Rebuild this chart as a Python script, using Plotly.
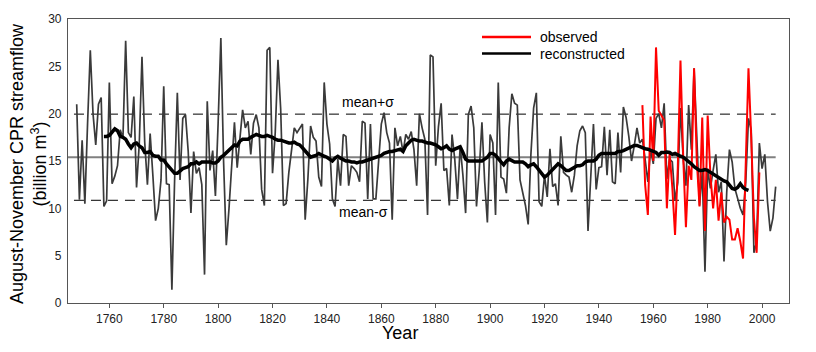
import plotly.graph_objects as go

FONT = "Arial, Liberation Sans, sans-serif"

# ---- data ----
recon_start = 1748
reconstructed = [
    21.0, 10.9, 17.2, 10.5, 19.0, 26.7, 20.0, 16.7, 21.0, 21.7,   # 1748-1757
    10.2, 10.8, 23.3, 12.6, 13.4, 14.5, 18.3, 17.4, 27.7, 18.0,   # 1758-1767
    17.5, 21.8, 12.2, 16.8, 26.0, 17.0, 12.5, 17.9, 13.5, 8.7,    # 1768-1777
    10.0, 13.0, 22.9, 12.6, 12.5, 1.4, 13.0, 22.2, 13.0, 19.5,    # 1778-1787
    19.9, 16.0, 9.5, 16.0, 13.7, 14.3, 12.5, 3.0, 21.3, 14.0,     # 1788-1797
    16.1, 11.3, 19.0, 28.0, 15.0, 6.1, 10.0, 14.0, 19.1, 14.3,    # 1798-1807
    17.0, 20.4, 18.5, 19.2, 15.7, 19.0, 19.9, 18.5, 12.0, 10.3,   # 1808-1817
    26.7, 27.0, 13.7, 18.0, 25.7, 20.5, 10.3, 10.5, 13.8, 16.2,   # 1818-1827
    18.5, 18.0, 18.5, 18.9, 8.8, 13.1, 18.7, 17.5, 17.1, 13.3,    # 1828-1837
    12.3, 23.3, 18.9, 16.8, 11.0, 10.2, 15.2, 12.4, 17.8, 17.6,   # 1838-1847
    12.4, 14.5, 14.2, 13.8, 12.8, 19.2, 19.0, 11.0, 18.9, 11.0,   # 1848-1857
    11.0, 14.9, 18.9, 20.1, 18.0, 16.9, 8.8, 18.5, 16.6, 17.6,    # 1858-1867
    15.9, 17.8, 17.3, 18.1, 16.2, 12.4, 20.0, 18.5, 17.3, 9.3,    # 1868-1877
    26.2, 26.0, 14.5, 18.6, 21.1, 14.0, 14.2, 10.3, 17.8, 15.2,   # 1878-1887
    11.0, 16.6, 13.5, 9.5, 19.9, 20.8, 18.5, 10.2, 14.0, 19.1,    # 1888-1897
    12.8, 8.5, 17.8, 16.9, 9.3, 23.3, 13.3, 13.1, 11.6, 18.5,     # 1898-1907
    22.1, 21.1, 20.9, 13.0, 11.7, 10.3, 8.3, 15.7, 20.6, 22.2,    # 1908-1917
    10.7, 10.2, 13.5, 11.2, 16.3, 12.3, 12.6, 10.3, 17.6, 13.8,   # 1918-1927
    13.5, 13.3, 11.7, 13.5, 16.6, 18.2, 18.7, 18.0, 7.6, 13.0,    # 1928-1937
    18.9, 12.0, 14.3, 14.4, 18.6, 13.5, 18.3, 12.8, 12.6, 18.0,   # 1938-1947
    13.8, 20.7, 19.6, 17.6, 15.0, 16.6, 18.5, 16.9, 17.3, 15.2,   # 1948-1957
    12.8, 16.2, 14.7, 19.5, 20.0, 18.5, 21.1, 13.1, 15.2, 14.9,   # 1958-1967
    10.8, 12.7, 20.6, 15.2, 12.4, 20.9, 16.2, 24.8, 17.6, 10.3,   # 1968-1977
    13.8, 3.3, 14.2, 12.1, 14.0, 15.7, 11.7, 12.8, 4.4, 11.7,     # 1978-1987
    16.2, 14.9, 12.1, 10.9, 10.0, 9.3, 12.8, 19.5, 18.3, 5.3,     # 1988-1997
    6.5, 16.9, 14.2, 15.7, 10.7, 7.6, 9.0, 12.3,                  # 1998-2005
]
recon_years = list(range(recon_start, recon_start + len(reconstructed)))

obs_start = 1956
observed = [
    20.9, 12.5, 9.3, 19.7, 15.0, 27.0, 20.3, 19.8, 19.3, 10.0,    # 1956-1965
    15.8, 12.2, 7.2, 14.2, 25.6, 15.5, 8.0, 14.5, 13.0, 24.8,     # 1966-1975
    15.0, 10.2, 19.6, 7.6, 19.8, 13.5, 10.0, 13.0, 8.7, 11.7,     # 1976-1985
    8.5, 9.1, 8.8, 6.7, 6.7, 7.9, 6.5, 4.7, 14.5, 24.8,           # 1986-1995
    17.5, 9.0, 5.3, 13.8,                                         # 1996-1999
]
obs_years = list(range(obs_start, obs_start + len(observed)))

ma_start = 1758
moving_avg = [
    17.6, 17.6, 17.7, 18.0, 18.4, 18.2, 17.6, 17.5, 17.3, 16.8,   # 1758-1767
    16.4, 16.8, 16.9, 16.6, 16.4, 15.9, 15.9, 16.0, 15.6, 15.5,   # 1768-1777
    15.5, 15.1, 15.1, 14.7, 14.4, 14.0, 13.7, 13.7, 14.0, 14.2,   # 1778-1787
    14.3, 14.4, 14.7, 14.7, 14.9, 14.7, 14.9, 14.9, 14.9, 14.9,   # 1788-1797
    14.8, 14.8, 15.0, 15.4, 15.6, 15.9, 16.1, 16.4, 16.7, 16.6,   # 1798-1807
    17.1, 17.3, 17.3, 17.3, 17.5, 17.7, 17.8, 17.7, 17.6, 17.6,   # 1808-1817
    17.7, 17.6, 17.5, 17.3, 17.2, 17.2, 17.1, 17.0, 16.9, 16.9,   # 1818-1827
    17.0, 16.8, 16.7, 16.4, 16.1, 15.7, 15.4, 15.5, 15.6, 15.8,   # 1828-1837
    15.6, 15.5, 15.4, 15.2, 15.0, 15.3, 15.5, 15.3, 15.1, 15.0,   # 1838-1847
    15.0, 14.9, 14.9, 14.8, 14.9, 14.9, 15.0, 15.1, 15.2, 15.3,   # 1848-1857
    15.4, 15.5, 15.6, 15.8, 15.9, 16.0, 16.0, 16.1, 16.2, 16.25,  # 1858-1867
    16.0, 16.6, 16.9, 17.2, 17.3, 17.2, 17.1, 17.1, 17.0, 16.9,   # 1868-1877
    16.9, 16.8, 16.7, 16.5, 16.3, 16.4, 16.6, 16.25, 16.1, 16.25, # 1878-1887
    16.4, 16.5, 15.9, 15.2, 15.0, 15.0, 15.0, 15.0, 15.0, 15.0,   # 1888-1897
    15.2, 15.4, 15.8, 15.8, 15.6, 15.2, 14.9, 14.6, 15.0, 15.2,   # 1898-1907
    15.0, 14.9, 14.9, 14.9, 14.9, 14.7, 14.4, 14.6, 14.7, 14.4,   # 1908-1917
    14.0, 13.6, 13.3, 13.5, 13.8, 14.2, 14.5, 14.7, 14.5, 14.2,   # 1918-1927
    14.0, 14.0, 14.2, 14.3, 14.5, 14.5, 14.6, 14.9, 15.0, 15.0,   # 1928-1937
    15.0, 15.2, 15.6, 15.8, 15.8, 15.8, 15.8, 15.8, 15.8, 16.0,   # 1938-1947
    16.0, 16.1, 16.25, 16.4, 16.6, 16.65, 16.65, 16.5, 16.4, 16.3,# 1948-1957
    16.25, 16.1, 15.95, 15.9, 15.6, 15.9, 15.9, 15.95, 15.9, 15.7,# 1958-1967
    15.8, 15.6, 15.5, 15.4, 15.2, 14.9, 14.7, 14.4, 14.2, 14.0,   # 1968-1977
    14.0, 14.1, 14.0, 13.8, 13.6, 13.5, 13.3, 13.1, 12.9, 12.8,   # 1978-1987
    12.5, 12.1, 12.0, 12.2, 12.6, 12.2, 12.0, 11.9,               # 1988-1995
]
ma_years = list(range(ma_start, ma_start + len(moving_avg)))

mean_flow = 15.4
sigma = 4.55
x_tick_vals = [1760, 1780, 1800, 1820, 1840, 1860, 1880, 1900, 1920, 1940, 1960, 1980, 2000]
y_tick_vals = [0, 5, 10, 15, 20, 25, 30]
x_range = [1744.8, 2009.9]

fig = go.Figure()

# mean and mean±sigma lines
fig.add_trace(go.Scatter(x=[x_range[0], recon_years[-1]], y=[mean_flow, mean_flow],
                         mode="lines", line=dict(color="#808080", width=2),
                         hoverinfo="skip", showlegend=False))
for lvl in (mean_flow + sigma, mean_flow - sigma):
    fig.add_trace(go.Scatter(x=[recon_years[0] - 1, recon_years[-1]], y=[lvl, lvl],
                             mode="lines", line=dict(color="#000000", width=1, dash="10px,7px"),
                             hoverinfo="skip", showlegend=False))

fig.add_trace(go.Scatter(x=recon_years, y=reconstructed, mode="lines",
                         line=dict(color="#3a3a3a", width=1.7), showlegend=False))
fig.add_trace(go.Scatter(x=obs_years, y=observed, mode="lines",
                         line=dict(color="#ff0000", width=2), showlegend=False))
fig.add_trace(go.Scatter(x=ma_years, y=moving_avg, mode="lines",
                         line=dict(color="#000000", width=3.5), showlegend=False))

# plot geometry in px
L, R, T, B = 68, 27, 15, 49
W, H = 816, 352
pw, ph = W - L - R, H - T - B

def px_x(x):
    return (x - L) / pw

def px_y(y):
    return (H - B - y) / ph

# manual legend
legend_items = [("observed", "#ff0000", 33.3), ("reconstructed", "#000000", 50)]
for label, col, ypx in legend_items:
    fig.add_shape(type="line", xref="paper", yref="paper",
                  x0=px_x(482), x1=px_x(531), y0=px_y(ypx), y1=px_y(ypx),
                  line=dict(color=col, width=2.5))
    fig.add_annotation(text=label, xref="paper", yref="paper", x=px_x(538), y=px_y(ypx),
                       xanchor="left", yanchor="middle", showarrow=False,
                       font=dict(family=FONT, size=14, color="#000000"))

fig.add_annotation(text="mean+σ", x=1855.1, y=21.2, showarrow=False,
                   xanchor="center", yanchor="middle",
                   font=dict(family=FONT, size=14, color="#000000"))
fig.add_annotation(text="mean-σ", x=1853.5, y=9.6, showarrow=False,
                   xanchor="center", yanchor="middle",
                   font=dict(family=FONT, size=14, color="#000000"))

# axis titles
fig.add_annotation(text="August-November CPR streamflow<br>(billion m<sup>3</sup>)",
                   xref="paper", yref="paper", x=0, y=0.5, xshift=-40, yshift=-3,
                   textangle=-90, showarrow=False, xanchor="center", yanchor="middle",
                   font=dict(family=FONT, size=18, color="#000000"))
fig.add_annotation(text="Year", xref="paper", yref="paper", x=px_x(400), y=0,
                   yshift=-29.5, showarrow=False, xanchor="center", yanchor="middle",
                   font=dict(family=FONT, size=18, color="#000000"))

fig.update_layout(
    width=W, height=H,
    margin=dict(l=L, r=R, t=T, b=B, pad=0),
    paper_bgcolor="white", plot_bgcolor="white",
    font=dict(family=FONT, size=12, color="#222222"),
    showlegend=False,
)
fig.update_xaxes(range=x_range, tickvals=x_tick_vals, ticks="outside", ticklen=4,
                 tickcolor="#555555", showline=True, mirror=True, linecolor="#555555",
                 linewidth=1.2, showgrid=False, zeroline=False,
                 tickfont=dict(family=FONT, size=12, color="#222222"))
fig.update_yaxes(range=[0, 30], tickvals=y_tick_vals, ticks="outside", ticklen=3,
                 tickcolor="rgba(0,0,0,0)", showline=True, mirror=True,
                 linecolor="#555555", linewidth=1.2, showgrid=False, zeroline=False,
                 tickfont=dict(family=FONT, size=12, color="#222222"))

fig.write_html("out.html")
